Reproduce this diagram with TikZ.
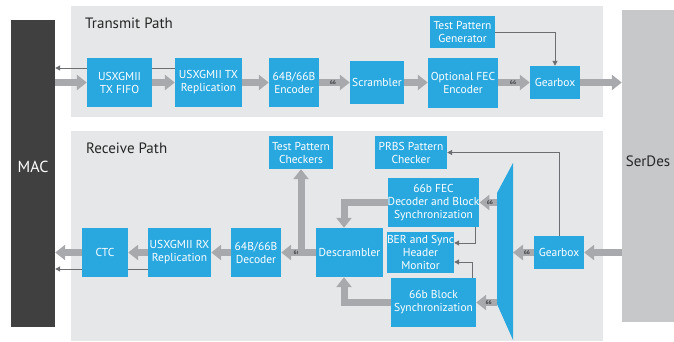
\documentclass[tikz,border=0pt]{standalone}
\usepackage{fontspec}
\setmainfont{PT Sans}
\usetikzlibrary{arrows.meta,calc}
\definecolor{blu}{HTML}{29A8E0}
\definecolor{pnl}{HTML}{E6E7E8}
\definecolor{macc}{HTML}{404041}
\definecolor{serd}{HTML}{C7C8CA}
\definecolor{arr}{HTML}{A7A9AC}
\definecolor{thinc}{HTML}{6D6E71}
\definecolor{lblc}{HTML}{414042}
\pgfdeclarelayer{bg}
\pgfdeclarelayer{mid}
\pgfsetlayers{bg,mid,main}
\tikzset{
  blk/.style={fill=blu, text=white, align=center, inner sep=0pt,
    font=\fontsize{11.5}{13}\selectfont},
  fat/.style={draw=arr, line width=7pt, line join=miter,
    -{Triangle[width=15pt,length=10pt]}},
  thinarr/.style={draw=thinc, line width=1pt,
    -{Triangle[width=5pt,length=5pt]}},
  lbl/.style={font=\fontsize{5.5}{5.5}\selectfont\bfseries, text=lblc, inner sep=0pt},
  ttl/.style={font=\fontsize{15}{17}\selectfont, text=black!85, anchor=west, inner sep=0pt},
}
\begin{document}
\begin{tikzpicture}[x=1pt,y=-1pt]
\useasboundingbox (0,0) rectangle (674,341);
\begin{pgfonlayer}{bg}
  \fill[pnl] (71,6) rectangle (603,117);
  \fill[pnl] (71,131) rectangle (603,341);
\end{pgfonlayer}
\node[ttl] (ttx) at (85,23) {Transmit Path};
\node[ttl] (trx) at (86,148) {Receive Path};
% side blocks
\node[fill=macc, minimum width=44pt, minimum height=307pt, inner sep=0pt] (mac) at (33,173.5) {};
\node[text=white, font=\fontsize{16}{18}\selectfont, inner sep=0pt] (macl) at (33,167) {MAC};
\node[fill=serd, minimum width=52pt, minimum height=312pt, inner sep=0pt] (serdes) at (648,166) {};
\node[text=black!85, font=\fontsize{15}{17}\selectfont, inner sep=0pt] (serl) at (648,161) {SerDes};
% transmit
\node[blk, minimum width=65pt, minimum height=49pt] (fifo) at (119.5,82.5) {USXGMII\\TX FIFO};
\node[blk, minimum width=67pt, minimum height=49pt] (txrep) at (208.5,82.5) {USXGMII TX\\Replication};
\node[blk, minimum width=50pt, minimum height=49pt] (enc) at (294,82.5) {64B/66B\\Encoder};
\node[blk, minimum width=54pt, minimum height=43pt] (scr) at (377,82.5) {Scrambler};
\node[blk, minimum width=70pt, minimum height=50pt] (fec) at (463,83) {Optional FEC\\Encoder};
\node[blk, minimum width=50pt, minimum height=33pt] (gbtx) at (555,82.5) {Gearbox};
\node[blk, minimum width=65pt, minimum height=32pt] (tpg) at (462.5,32) {Test Pattern\\Generator};
% receive
\node[blk, minimum width=64pt, minimum height=33pt] (tpc) at (301,152.5) {Test Pattern\\Checkers};
\node[blk, minimum width=46pt, minimum height=49pt] (ctc) at (105,252.5) {CTC};
\node[blk, minimum width=63pt, minimum height=49pt] (rxrep) at (179.5,252.5) {USXGMII RX\\Replication};
\node[blk, minimum width=50pt, minimum height=49pt] (dec) at (256,252.5) {64B/66B\\Decoder};
\node[blk, minimum width=67pt, minimum height=49pt] (desc) at (349.5,252.5) {Descrambler};
\node[blk, minimum width=72pt, minimum height=33pt] (prbs) at (411,152.5) {PRBS Pattern\\Checker};
\node[blk, minimum width=85pt, minimum height=49pt] (fecd) at (433.5,202.5) {66b FEC\\Decoder and Block\\Synchronization};
\node[blk, minimum width=63pt, minimum height=41pt] (ber) at (420.5,252.5) {BER and Sync\\Header\\Monitor};
\node[blk, minimum width=85pt, minimum height=49pt] (bsync) at (433.5,302.5) {66b Block\\Synchronization};
\node[blk, minimum width=50pt, minimum height=33pt] (gbrx) at (559,252.5) {Gearbox};
\fill[blu] (497,193) -- (513,163) -- (513,340) -- (497,304) -- cycle;
\coordinate (muxL) at (497,250);
\coordinate (muxR) at (513,250);
\coordinate (t1) at ($(txrep.west)+(0,-14.5)$);
\coordinate (r1) at ($(rxrep.west)+(0,16.5)$);
\coordinate (br) at ($(tpc.south |- desc.west)+(0,3.5)$);
\coordinate (fb) at ($(fecd.south east)+(-4,0)$);
\coordinate (bt) at ($(bsync.north east)+(-4,0)$);
\coordinate (be1) at ($(ber.east)+(0,-9.5)$);
\coordinate (be2) at ($(ber.east)+(0,9.5)$);
\begin{pgfonlayer}{mid}
  % transmit
  \draw[fat] (mac.east |- fifo.west) -- (fifo.west);
  \draw[fat] (fifo.east) -- (txrep.west);
  \draw[fat] (txrep.east) -- (enc.west);
  \draw[fat] (enc.east) -- node[lbl,pos=.45]{66} (scr.west);
  \draw[fat] (scr.east) -- (scr.east -| fec.west);
  \draw[fat] (fec.east |- gbtx.west) -- node[lbl,pos=.47]{66} (gbtx.west);
  \draw[fat] (gbtx.east) -- (gbtx.east -| serdes.west);
  \draw[thinarr] (t1) -- (t1 -| mac.east);
  \draw[thinarr] (tpg.east) -| (gbtx.north);
  % receive
  \draw[fat] (serdes.west |- gbrx.east) -- (gbrx.east);
  \draw[fat] (gbrx.west) -- node[lbl,pos=.33]{66} (gbrx.west -| muxR);
  \draw[fat] (fecd.east -| muxL) -- node[lbl,pos=.4]{66} (fecd.east);
  \draw[fat] (bsync.east -| muxL) -- node[lbl,pos=.4]{66} (bsync.east);
  \draw[fat] (fecd.west) -| ([xshift=-5.5pt]desc.north);
  \draw[fat] (bsync.west) -| ([xshift=-5.5pt]desc.south);
  \draw[fat] (desc.west) -- node[lbl,pos=.55]{66} (dec.east);
  \draw[fat] (br) -- (tpc.south);
  \draw[fat] (dec.west) -- (rxrep.east);
  \draw[fat] (rxrep.west) -- (ctc.east);
  \draw[fat] (ctc.west) -- (ctc.west -| mac.east);
  \draw[thinarr] (r1) -- (r1 -| mac.east);
  \draw[thinarr] (fb) |- (be1);
  \draw[thinarr] (bt) |- (be2);
  \draw[thinarr] (gbrx.north) |- (prbs.east);
\end{pgfonlayer}
\end{tikzpicture}
\end{document}
